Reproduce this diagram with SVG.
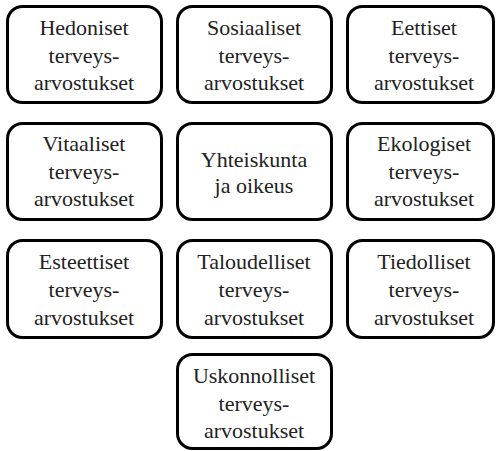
<svg xmlns="http://www.w3.org/2000/svg" width="496" height="451" viewBox="0 0 496 451">
<style>
.b{fill:#fff;stroke:#000;stroke-width:3}
text{font-family:'Liberation Serif','Times New Roman',serif;font-size:22px;fill:#222;text-anchor:middle}
</style>
<rect width="496" height="451" fill="#fff"/>
<g id="n1"><rect class="b" x="7.5" y="6.5" width="154" height="96" rx="15"/><text x="84" y="35">Hedoniset</text><text x="84" y="63">terveys-</text><text x="84" y="90">arvostukset</text></g>
<g id="n2"><rect class="b" x="177.5" y="6.5" width="154" height="96" rx="15"/><text x="254" y="35">Sosiaaliset</text><text x="254" y="63">terveys-</text><text x="254" y="90">arvostukset</text></g>
<g id="n3"><rect class="b" x="347.5" y="6.5" width="146" height="96" rx="15"/><text x="424" y="35">Eettiset</text><text x="424" y="63">terveys-</text><text x="424" y="90">arvostukset</text></g>
<g id="n4"><rect class="b" x="7.5" y="123.5" width="154" height="96" rx="15"/><text x="84" y="151">Vitaaliset</text><text x="84" y="179">terveys-</text><text x="84" y="206">arvostukset</text></g>
<g id="n5"><rect class="b" x="177.5" y="123.5" width="154" height="96" rx="15"/><text x="254" y="167">Yhteiskunta</text><text x="254" y="193">ja oikeus</text></g>
<g id="n6"><rect class="b" x="347.5" y="123.5" width="146" height="96" rx="15"/><text x="424" y="151">Ekologiset</text><text x="424" y="179">terveys-</text><text x="424" y="206">arvostukset</text></g>
<g id="n7"><rect class="b" x="7.5" y="240.5" width="154" height="97" rx="15"/><text x="84" y="269">Esteettiset</text><text x="84" y="297">terveys-</text><text x="84" y="325">arvostukset</text></g>
<g id="n8"><rect class="b" x="177.5" y="240.5" width="154" height="97" rx="15"/><text x="254" y="269">Taloudelliset</text><text x="254" y="297">terveys-</text><text x="254" y="325">arvostukset</text></g>
<g id="n9"><rect class="b" x="347.5" y="240.5" width="146" height="97" rx="15"/><text x="424" y="269">Tiedolliset</text><text x="424" y="297">terveys-</text><text x="424" y="325">arvostukset</text></g>
<g id="n10"><rect class="b" x="177.5" y="354.5" width="154" height="94" rx="15"/><text x="254" y="383">Uskonnolliset</text><text x="254" y="411">terveys-</text><text x="254" y="438">arvostukset</text></g>
<g id="connectors"></g>
</svg>
